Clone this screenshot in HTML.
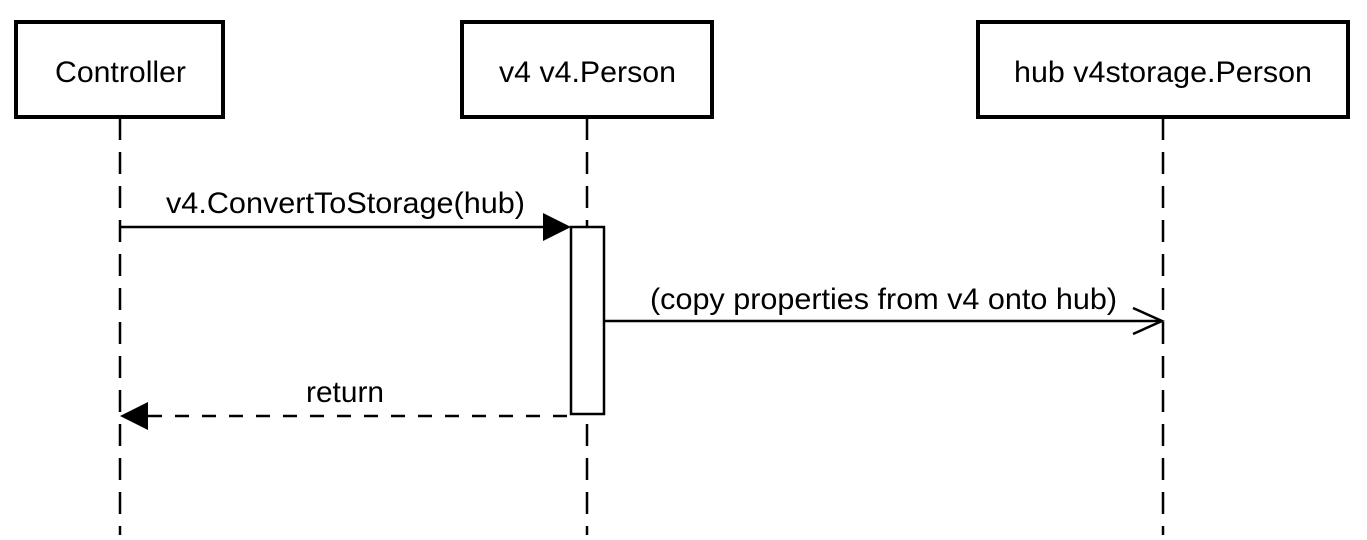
<!DOCTYPE html>
<html><head><style>
html,body{margin:0;padding:0;background:#fff;}
</style></head><body>
<svg width="1367" height="535" viewBox="0 0 1367 535" xmlns="http://www.w3.org/2000/svg" font-family="Liberation Sans, Arial, sans-serif" font-size="30">
<rect x="0" y="0" width="1367" height="535" fill="#fff"/>
<g stroke="#000" stroke-width="2.5" stroke-dasharray="22 12">
<line x1="120" y1="118" x2="120" y2="535"/>
<line x1="587" y1="118" x2="587" y2="535"/>
<line x1="1163" y1="118" x2="1163" y2="535"/>
</g>
<g fill="#fff" stroke="#000" stroke-width="4">
<rect x="16" y="22" width="207" height="95"/>
<rect x="462" y="22" width="250" height="95"/>
<rect x="978" y="22" width="370" height="95"/>
</g>
<g fill="#000">
<text x="55" y="82" textLength="131" lengthAdjust="spacingAndGlyphs">Controller</text>
<text x="499" y="82" textLength="177" lengthAdjust="spacingAndGlyphs">v4 v4.Person</text>
<text x="1014" y="82" textLength="298" lengthAdjust="spacingAndGlyphs">hub v4storage.Person</text>
<text x="166" y="213" textLength="359" lengthAdjust="spacingAndGlyphs">v4.ConvertToStorage(hub)</text>
<text x="650" y="309" textLength="467" lengthAdjust="spacingAndGlyphs">(copy properties from v4 onto hub)</text>
<text x="306" y="402" textLength="78" lengthAdjust="spacingAndGlyphs">return</text>
</g>
<rect x="571" y="227" width="33" height="187" fill="#fff" stroke="#000" stroke-width="2.5"/>
<line x1="120" y1="227" x2="545" y2="227" stroke="#000" stroke-width="2.5"/>
<polygon points="543,213 571,227 543,241" fill="#000"/>
<line x1="604" y1="321" x2="1162" y2="321" stroke="#000" stroke-width="2.5"/>
<polyline points="1133,308 1162,321 1133,334" fill="none" stroke="#000" stroke-width="2.5"/>
<line x1="148" y1="416" x2="571" y2="416" stroke="#000" stroke-width="2.5" stroke-dasharray="14 13"/>
<polygon points="120,416 148,402 148,430" fill="#000"/>
</svg>
</body></html>
